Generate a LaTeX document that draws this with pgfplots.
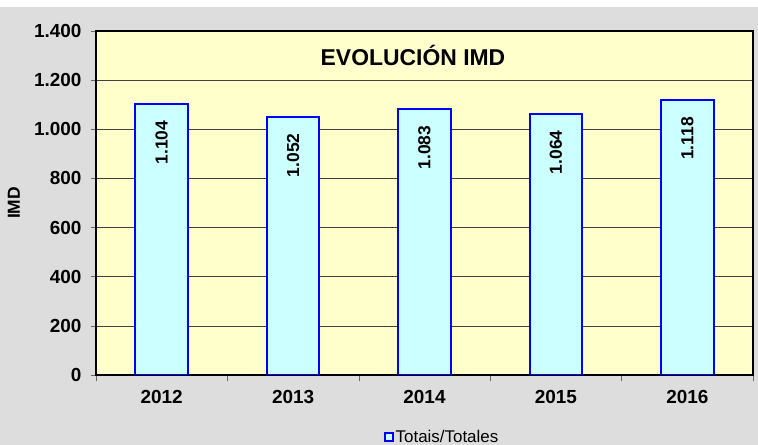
\documentclass[border=0pt]{standalone}
\usepackage{fontspec}
\setmainfont{Liberation Sans}
\usepackage{pgfplots}
\pgfplotsset{compat=1.18}
\definecolor{bgGrey}{HTML}{DDDDDD}
\definecolor{plotYellow}{HTML}{FFFFCC}
\definecolor{barCyan}{HTML}{CCFFFF}
\definecolor{barBlue}{HTML}{0000FF}
\pgfplotsset{/pgf/number format/.cd, 1000 sep={.}, assume math mode=true}
\begin{document}
\begin{tikzpicture}
\useasboundingbox (0,0) rectangle (758bp,445bp);
\fill[bgGrey] (0,0) rectangle (758bp,438bp);
\begin{axis}[
    at={(96bp,70bp)}, anchor=south west,
    scale only axis, width=657bp, height=344bp,
    xmin=-0.5, xmax=4.5, ymin=0, ymax=1400,
    ytick={0,200,...,1400},
    xtick={0,...,4}, xticklabels={2012,2013,2014,2015,2016},
    minor xtick={-0.5,0.5,...,4.5},
    tick pos=left, tick align=outside,
    major tick length=5bp, minor tick length=6bp,
    major x tick style={draw=none},
    minor x tick style={black!60, line width=0.6bp},
    major y tick style={black!60, line width=0.6bp},
    axis line style={black, line width=1.6bp},
    axis background/.style={fill=plotYellow},
    ymajorgrids, grid style={black!75, line width=0.6bp},
    tick label style={font=\fontsize{19}{19}\selectfont\bfseries},
    yticklabel style={xshift=-6bp},
    xticklabel style={yshift=-7bp},
    every axis y label/.style={at={(axis description cs:-0.125,0.5)}, rotate=90, anchor=center},
    ylabel={IMD}, ylabel style={font=\fontsize{17.5}{17.5}\selectfont\bfseries},
    legend entries={Totais/Totales},
    legend style={at={(0.527,-0.18)}, anchor=center, draw=none, fill=none,
        font=\fontsize{17}{17}\selectfont, inner sep=0pt},
    legend image code/.code={\draw[#1, line width=1.5bp] (0bp,-4bp) rectangle (8bp,4bp);},
]
\addplot[ybar, bar width=0.4, fill=barCyan, draw=barBlue, line width=2bp,
    nodes near coords,
    every node near coord/.append style={font=\fontsize{17.5}{17.5}\selectfont\bfseries,
        black, yshift=-16bp, rotate=90, anchor=east, inner sep=0pt}]
    coordinates {(0,1104) (1,1052) (2,1083) (3,1064) (4,1118)};
\node[font=\fontsize{23}{23}\selectfont\bfseries] at (axis description cs:0.4825,0.928) {EVOLUCIÓN IMD};
\end{axis}
\end{tikzpicture}
\end{document}
